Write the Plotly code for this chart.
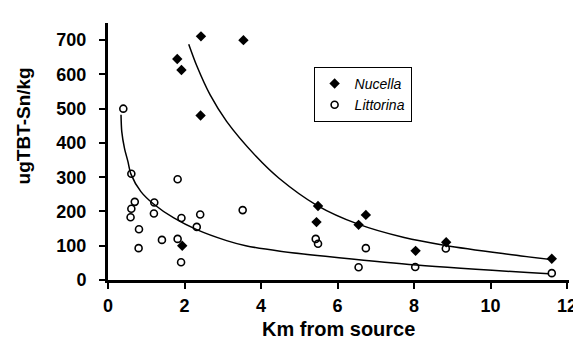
import plotly.graph_objects as go

# Nucella (filled diamonds)
nucella_km = [2.43, 3.54, 1.81, 1.92, 2.42, 1.94, 5.49, 5.45, 6.74, 6.55, 8.04, 8.84, 11.6]
nucella_tbt = [711, 700, 645, 613, 480, 100, 216, 169, 190, 161, 85, 110, 62]

# Littorina (open circles)
littorina_km = [0.40, 0.61, 1.82, 0.70, 0.61, 0.59, 1.21, 1.20, 0.81, 0.80, 1.41, 1.82,
                1.92, 1.91, 2.41, 2.32, 3.52, 5.43, 5.49, 6.74, 6.55, 8.03, 8.83, 11.6]
littorina_tbt = [500, 310, 294, 228, 208, 183, 226, 194, 148, 93, 117, 120,
                 181, 52, 191, 155, 204, 120, 106, 93, 37, 38, 92, 20]

# Fitted trend curves
nucella_fit_km = [2.11, 2.32, 2.67, 3.10, 3.87, 4.47, 5.46, 6.54, 7.74, 8.82, 10.32, 11.61]
nucella_fit_tbt = [688, 625, 540, 463, 361, 297, 218, 163, 124, 101, 77, 59]

littorina_fit_km = [0.34, 0.36, 0.43, 0.52, 0.60, 0.86, 1.20, 1.72, 2.32, 3.10, 3.60, 4.50, 5.68, 7.87, 11.53]
littorina_fit_tbt = [482, 433, 385, 346, 309, 258, 221, 181, 147, 115, 100, 84, 69, 45, 18]

x_ticks = [0, 2, 4, 6, 8, 10, 12]
y_ticks = [0, 100, 200, 300, 400, 500, 600, 700]

FONT = "Liberation Sans, Arial, Helvetica, sans-serif"

fig = go.Figure()
fig.add_trace(go.Scatter(x=nucella_fit_km, y=nucella_fit_tbt, mode="lines",
                         line=dict(color="black", width=1.5, shape="spline", smoothing=0.8),
                         showlegend=False, hoverinfo="skip"))
fig.add_trace(go.Scatter(x=littorina_fit_km, y=littorina_fit_tbt, mode="lines",
                         line=dict(color="black", width=1.5, shape="spline", smoothing=0.8),
                         showlegend=False, hoverinfo="skip"))
fig.add_trace(go.Scatter(x=nucella_km, y=nucella_tbt, mode="markers", name="<i>Nucella</i>",
                         marker=dict(symbol="diamond", size=8, color="black")))
fig.add_trace(go.Scatter(x=littorina_km, y=littorina_tbt, mode="markers", name="<i>Littorina</i>",
                         marker=dict(symbol="circle-open", size=7, color="black",
                                     line=dict(width=1.6, color="black"))))

fig.update_layout(
    width=581, height=341,
    margin=dict(l=100, r=15, t=15, b=69),
    paper_bgcolor="white", plot_bgcolor="white",
    font=dict(family=FONT, color="black"),
    showlegend=True,
    legend=dict(x=0.446, y=0.829, xanchor="left", yanchor="top",
                bordercolor="black", borderwidth=1, bgcolor="white",
                font=dict(family=FONT, size=14, color="black"),
                itemsizing="trace", tracegroupgap=0,
                itemwidth=30),
    annotations=[
        dict(text="<b>Km from source</b>", x=0.5, xref="paper", y=-0.19, yref="paper",
             xanchor="center", yanchor="middle", showarrow=False,
             font=dict(family=FONT, size=20, color="black")),
        dict(text="<b>ugTBT-Sn/kg</b>", x=-0.183, xref="paper", y=0.6, yref="paper",
             xanchor="center", yanchor="middle", showarrow=False, textangle=-90,
             font=dict(family=FONT, size=19, color="black")),
    ],
)
fig.update_xaxes(range=[0, 12.05], tickvals=x_ticks, ticktext=["<b>%d</b>" % v for v in x_ticks],
                 showline=True, linecolor="black", linewidth=3, showgrid=False, zeroline=False,
                 ticks="outside", ticklen=6, tickwidth=2, tickcolor="black",
                 tickfont=dict(family=FONT, size=18, color="black", weight="bold"),
                 ticklabelstandoff=1)
fig.update_yaxes(range=[0, 750], tickvals=y_ticks, ticktext=["<b>%d</b>" % v for v in y_ticks],
                 showline=True, linecolor="black", linewidth=3, showgrid=False, zeroline=False,
                 ticks="outside", ticklen=6, tickwidth=2, tickcolor="black",
                 tickfont=dict(family=FONT, size=18, color="black", weight="bold"),
                 ticklabelstandoff=9)

fig.write_html("out.html")
